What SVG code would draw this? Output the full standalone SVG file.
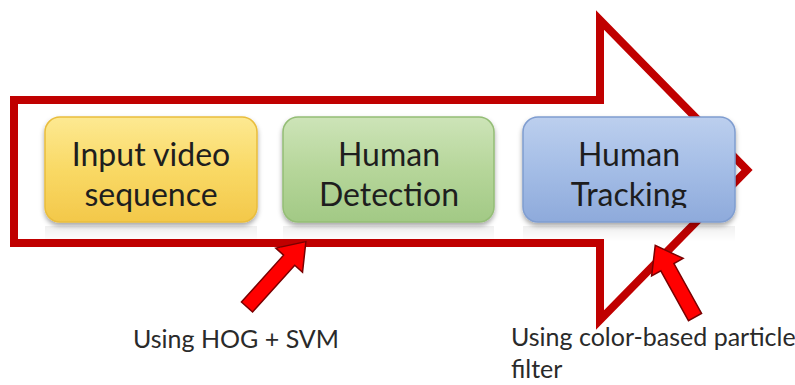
<svg xmlns="http://www.w3.org/2000/svg" width="795" height="385" viewBox="0 0 795 385">
  <defs>
    <style>
      .box-text { font-family: Lato, "Open Sans", sans-serif; font-size: 32px; fill: #1e1e1e; text-anchor: middle; }
      .label { font-family: Lato, "Open Sans", sans-serif; font-size: 25px; fill: #2a2a2a; }
      .outline { fill: none; stroke: #c00000; stroke-width: 8; stroke-linejoin: miter; }
      .red-arrow { fill: #ff0000; stroke: #7a0000; stroke-width: 1.5; stroke-linejoin: miter; }
    </style>
    <linearGradient id="gYellow" x1="0" y1="0" x2="0" y2="1">
      <stop offset="0" stop-color="#fde992"/>
      <stop offset="0.5" stop-color="#f9d965"/>
      <stop offset="1" stop-color="#f3c84a"/>
    </linearGradient>
    <linearGradient id="gGreen" x1="0" y1="0" x2="0" y2="1">
      <stop offset="0" stop-color="#cde4b8"/>
      <stop offset="0.5" stop-color="#b6d69a"/>
      <stop offset="1" stop-color="#a2c985"/>
    </linearGradient>
    <linearGradient id="gBlue" x1="0" y1="0" x2="0" y2="1">
      <stop offset="0" stop-color="#bccfee"/>
      <stop offset="0.5" stop-color="#a4bde6"/>
      <stop offset="1" stop-color="#8eaadb"/>
    </linearGradient>
    <linearGradient id="gRefl" x1="0" y1="0" x2="0" y2="1">
      <stop offset="0" stop-color="#000" stop-opacity="0.06"/>
      <stop offset="1" stop-color="#000" stop-opacity="0"/>
    </linearGradient>
    <filter id="shadow" x="-10%" y="-10%" width="120%" height="130%">
      <feDropShadow dx="0" dy="3" stdDeviation="2.5" flood-color="#000" flood-opacity="0.35"/>
    </filter>
    <clipPath id="clipTrack">
      <rect x="520" y="110" width="220" height="98"/>
    </clipPath>
  </defs>

  <rect width="795" height="385" fill="#ffffff"/>

  <g id="flow-arrow">
    <polygon class="outline" points="14,100 600,100 600,20 747,170 600,320 600,243 14,243"/>
  </g>

  <g id="node-input">
    <rect x="45" y="117" width="212" height="105" rx="15" fill="url(#gYellow)" stroke="#e9bd3c" stroke-width="1.5" filter="url(#shadow)"/>
    <rect x="45" y="226" width="212" height="16" fill="url(#gRefl)"/>
    <text class="box-text" x="151" y="166">Input video</text>
    <text class="box-text" x="151" y="206">sequence</text>
  </g>

  <g id="node-detection">
    <rect x="283" y="117" width="211" height="105" rx="15" fill="url(#gGreen)" stroke="#94bd76" stroke-width="1.5" filter="url(#shadow)"/>
    <rect x="283" y="226" width="211" height="16" fill="url(#gRefl)"/>
    <text class="box-text" x="389" y="166">Human</text>
    <text class="box-text" x="389" y="206">Detection</text>
  </g>

  <g id="node-tracking">
    <rect x="523" y="117" width="212" height="105" rx="15" fill="url(#gBlue)" stroke="#7f9dd0" stroke-width="1.5" filter="url(#shadow)"/>
    <rect x="523" y="226" width="212" height="16" fill="url(#gRefl)"/>
    <text class="box-text" x="629" y="166" fill="#1d2940">Human</text>
    <text class="box-text" x="629" y="206" clip-path="url(#clipTrack)">Tracking</text>
  </g>

  <g id="connectors">
    <polygon class="red-arrow" transform="translate(247,307) rotate(-48)" points="0,-7.5 63,-7.5 63,-18 88,0 63,18 63,7.5 0,7.5"/>
    <polygon class="red-arrow" transform="translate(695,317) rotate(-119)" points="0,-7.5 57,-7.5 57,-18 82,0 57,18 57,7.5 0,7.5"/>
  </g>

  <g id="labels">
    <text class="label" x="133" y="348">Using HOG + SVM</text>
    <text class="label" x="511" y="346">Using color-based particle</text>
    <text class="label" x="511" y="378">filter</text>
  </g>
</svg>
